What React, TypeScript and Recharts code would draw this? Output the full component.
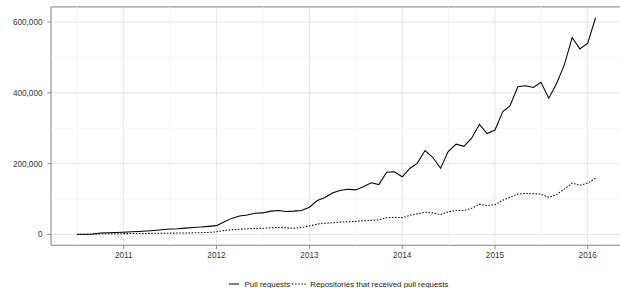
import React from "react";
import {
  LineChart,
  Line,
  XAxis,
  YAxis,
  CartesianGrid,
  ReferenceLine,
  ReferenceArea,
  Legend,
} from "recharts";

// Monthly observations, Jul 2010 .. Feb 2016
const months = [
  "2010-07", "2010-08", "2010-09", "2010-10", "2010-11", "2010-12",
  "2011-01", "2011-02", "2011-03", "2011-04", "2011-05", "2011-06",
  "2011-07", "2011-08", "2011-09", "2011-10", "2011-11", "2011-12",
  "2012-01", "2012-02", "2012-03", "2012-04", "2012-05", "2012-06",
  "2012-07", "2012-08", "2012-09", "2012-10", "2012-11", "2012-12",
  "2013-01", "2013-02", "2013-03", "2013-04", "2013-05", "2013-06",
  "2013-07", "2013-08", "2013-09", "2013-10", "2013-11", "2013-12",
  "2014-01", "2014-02", "2014-03", "2014-04", "2014-05", "2014-06",
  "2014-07", "2014-08", "2014-09", "2014-10", "2014-11", "2014-12",
  "2015-01", "2015-02", "2015-03", "2015-04", "2015-05", "2015-06",
  "2015-07", "2015-08", "2015-09", "2015-10", "2015-11", "2015-12",
  "2016-01", "2016-02",
];

const pullRequests = [
  500, 700, 1500, 4500, 5000, 5800,
  6500, 7500, 8500, 10000, 11500, 13500,
  15500, 16500, 18000, 19500, 21000, 23000,
  25000, 36000, 45500, 52000, 55000, 60000,
  61000, 66000, 68000, 65000, 66000, 68000,
  77000, 96000, 104000, 117000, 124000, 128000,
  126000, 135000, 146000, 141000, 176000, 177000,
  163000, 187000, 201000, 237000, 218000, 187000,
  234000, 255000, 249000, 272000, 311000, 285000,
  295000, 347000, 363000, 417000, 420000, 415000,
  430000, 385000, 427000, 479000, 556000, 524000,
  540000, 612000,
];

const reposWithPRs = [
  100, 200, 500, 1800, 2000, 2200,
  2400, 2600, 2800, 3100, 3300, 3600,
  3800, 4000, 4300, 4700, 5200, 5800,
  7500, 11500, 13500, 15000, 16000, 17000,
  17500, 19000, 20000, 19000, 17500, 20000,
  24000, 29500, 31500, 33000, 35000, 36000,
  37000, 39000, 40000, 41000, 47500, 48500,
  47500, 54000, 58000, 63000, 61000, 56500,
  64000, 67500, 68000, 74000, 85000, 82000,
  84000, 97000, 105000, 114000, 116000, 115000,
  114000, 105000, 113000, 128000, 145000, 139000,
  145000, 159000,
];

const yearTicks = [2011, 2012, 2013, 2014, 2015, 2016];
const minorYears = [2010, 2011, 2012, 2013, 2014, 2015];
const yTicks = [0, 200000, 400000, 600000];
const yMinor = [100000, 300000, 500000];

const seriesNames = {
  pr: "Pull requests",
  repos: "Repositories that received pull requests",
};

const toTime = (m: string) => {
  const [y, mo] = m.split("-").map(Number);
  return Date.UTC(y, mo - 1, 1);
};

const data = months.map((m, i) => ({
  t: toTime(m),
  pr: pullRequests[i],
  repos: reposWithPRs[i],
}));

const tMin = data[0].t;
const tMax = data[data.length - 1].t;
const tPad = (tMax - tMin) * 0.05;
const xDomain: [number, number] = [tMin - tPad, tMax + tPad];

const allY = [...pullRequests, ...reposWithPRs];
const yLo = Math.min(...allY);
const yHi = Math.max(...allY);
const yPad = (yHi - yLo) * 0.05;
const yDomain: [number, number] = [yLo - yPad, yHi + yPad];

const xTickValues = yearTicks.map((y) => Date.UTC(y, 0, 1));
const xMinorValues = minorYears.map((y) => Date.UTC(y, 6, 2));

const FONT = "'Liberation Sans', Arial, Helvetica, sans-serif";
const TICK_COLOR = "#333333";
const BORDER = "#8c8c8c";
const MAJOR = "#e6e6e6";
const MINOR = "#f3f3f3";

const fmtNum = (v: number) => v.toLocaleString("en-US");

const LegendContent = () => (
  <div
    style={{
      display: "flex",
      justifyContent: "center",
      alignItems: "center",
      height: 10,
      fontFamily: FONT,
      fontSize: 7.9,
      color: "#222",
      whiteSpace: "nowrap",
    }}
  >
    <svg width={10} height={4} style={{ display: "block" }}>
      <line x1={0} y1={2} x2={10} y2={2} stroke="#000" strokeWidth={1} />
    </svg>
    <span style={{ marginLeft: 6 }}>{seriesNames.pr}</span>
    <svg width={14} height={4} style={{ display: "block", marginLeft: 2 }}>
      <line
        x1={0}
        y1={2}
        x2={14}
        y2={2}
        stroke="#000"
        strokeWidth={1}
        strokeDasharray="1.5 1.6"
      />
    </svg>
    <span style={{ marginLeft: 4 }}>{seriesNames.repos}</span>
  </div>
);

export default function App() {
  return (
    <div
      style={{
        position: "absolute",
        left: 0,
        top: 0,
        width: 620,
        height: 288,
        overflow: "hidden",
        background: "#fff",
      }}
    >
      <LineChart
        width={621.5}
        height={288}
        data={data}
        margin={{ top: 6.9, right: 0, bottom: 0, left: 0 }}
      >
        <CartesianGrid stroke={MAJOR} strokeWidth={1} />
        {xMinorValues.map((v) => (
          <ReferenceLine key={"xm" + v} x={v} stroke={MINOR} strokeWidth={0.8} />
        ))}
        {yMinor.map((v) => (
          <ReferenceLine key={"ym" + v} y={v} stroke={MINOR} strokeWidth={0.8} />
        ))}
        <XAxis
          dataKey="t"
          type="number"
          domain={xDomain}
          allowDataOverflow
          ticks={xTickValues}
          tickFormatter={(v: number) => String(new Date(v).getUTCFullYear())}
          height={42.7}
          tickSize={3.7}
          tickMargin={3.3}
          axisLine={false}
          tickLine={{ stroke: BORDER, strokeWidth: 1 }}
          tick={{ fill: TICK_COLOR, fontSize: 8.2, fontFamily: FONT }}
          interval={0}
        />
        <YAxis
          type="number"
          domain={yDomain}
          allowDataOverflow
          ticks={yTicks}
          tickFormatter={fmtNum}
          width={51}
          tickSize={3.7}
          tickMargin={4.8}
          axisLine={false}
          tickLine={{ stroke: BORDER, strokeWidth: 1 }}
          tick={{ fill: TICK_COLOR, fontSize: 8.2, fontFamily: FONT }}
          interval={0}
        />
        <ReferenceArea
          x1={xDomain[0]}
          x2={xDomain[1]}
          y1={yDomain[0]}
          y2={yDomain[1]}
          fill="none"
          fillOpacity={0}
          stroke={BORDER}
          strokeWidth={1}
        />
        <Line
          type="linear"
          dataKey="repos"
          name={seriesNames.repos}
          stroke="#000"
          strokeWidth={1.05}
          strokeDasharray="1.5 1.6"
          dot={false}
          isAnimationActive={false}
        />
        <Line
          type="linear"
          dataKey="pr"
          name={seriesNames.pr}
          stroke="#000"
          strokeWidth={1.05}
          dot={false}
          isAnimationActive={false}
        />
        <Legend
          verticalAlign="bottom"
          content={<LegendContent />}
          wrapperStyle={{ top: 279, left: 0, width: 677, height: 0, bottom: "auto" }}
        />
      </LineChart>
    </div>
  );
}
